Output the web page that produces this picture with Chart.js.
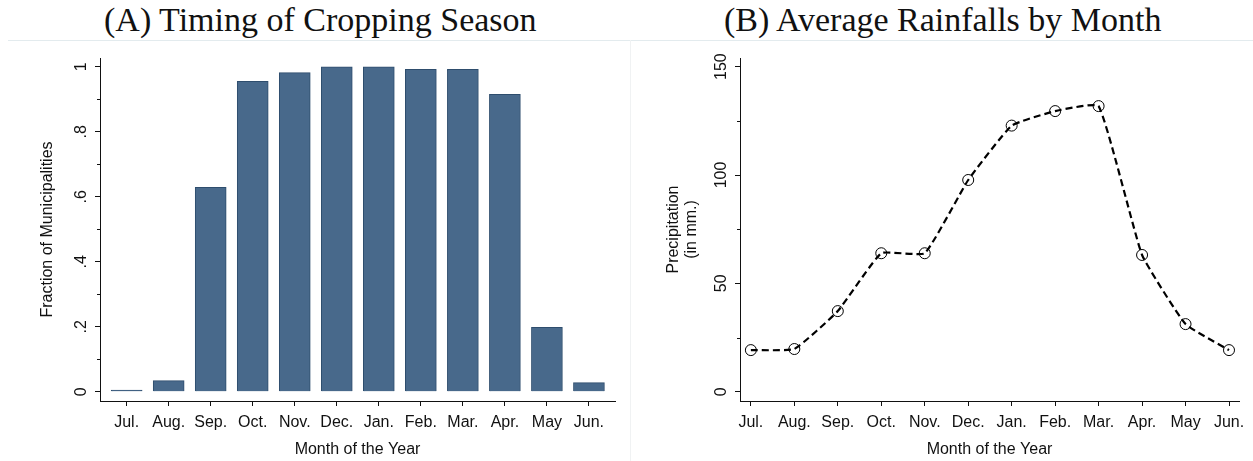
<!DOCTYPE html>
<html>
<head>
<meta charset="utf-8">
<script src="https://cdn.jsdelivr.net/npm/chart.js@4.4.1/dist/chart.umd.min.js"></script>
<style>
  body { margin: 0; background: #fff; width: 1253px; height: 461px; overflow: hidden; position: relative; }
  .title { position: absolute; top: 2px; font-family: "Liberation Serif", serif; font-size: 34px; color: #111; white-space: nowrap; line-height: 36px; }
  .sep { position: absolute; top: 40px; left: 8px; width: 1245px; height: 1px; background: #e3ebee; }
  .vsep { position: absolute; top: 40px; left: 630px; width: 1px; height: 421px; background: #f0f2f3; }
  .box { position: absolute; top: 41px; height: 420px; }
</style>
</head>
<body>
<div class="title" id="titleA" style="left:104px">(A) Timing of Cropping Season</div>
<div class="title" id="titleB" style="left:724px">(B) Average Rainfalls by Month</div>
<div class="sep"></div>
<div class="vsep"></div>
<div class="box" style="left:0; width:630px"><canvas id="cropChart" width="630" height="420"></canvas></div>
<div class="box" style="left:631px; width:622px"><canvas id="rainChart" width="622" height="420"></canvas></div>
<script>
// data
var months = ['Jul.', 'Aug.', 'Sep.', 'Oct.', 'Nov.', 'Dec.', 'Jan.', 'Feb.', 'Mar.', 'Apr.', 'May', 'Jun.'];
var cropFraction = [0.005, 0.034, 0.629, 0.955, 0.982, 1.0, 1.0, 0.992, 0.992, 0.915, 0.198, 0.028];
var rainfall = [19.2, 19.7, 37.2, 63.9, 63.9, 97.7, 122.8, 129.5, 131.8, 63.1, 31.2, 19.2];
var cropTicks = [0, 0.2, 0.4, 0.6, 0.8, 1];
var cropTickLabels = ['0', '.2', '.4', '.6', '.8', '1'];
var cropMinor = [0.1, 0.3, 0.5, 0.7, 0.9];
var rainTicks = [0, 50, 100, 150];
var rainTickLabels = ['0', '50', '100', '150'];
var rainMinor = [25, 75, 125];

var axisFont = { family: '"Liberation Sans", Arial, sans-serif', size: 16, lineHeight: 1.1 };
var ink = '#111';

function toPoints(values) {
  return values.map(function(v, i) { return { x: i, y: v }; });
}

// rotated y tick labels + minor ticks, drawn like Stata does
var stataYAxis = {
  id: 'stataYAxis',
  afterDraw: function(chart, args, opts) {
    var ctx = chart.ctx;
    var y = chart.scales.y;
    ctx.save();
    ctx.strokeStyle = ink;
    ctx.lineWidth = 1;
    opts.minor.forEach(function(v) {
      var py = Math.round(y.getPixelForValue(v)) + 0.5;
      ctx.beginPath();
      ctx.moveTo(y.right - 3, py);
      ctx.lineTo(y.right, py);
      ctx.stroke();
    });
    ctx.fillStyle = ink;
    ctx.font = axisFont.size + 'px ' + axisFont.family;
    ctx.textAlign = 'center';
    ctx.textBaseline = 'middle';
    opts.values.forEach(function(v, i) {
      var py = y.getPixelForValue(v);
      ctx.save();
      ctx.translate(y.right - 18, py);
      ctx.rotate(-Math.PI / 2);
      ctx.fillText(opts.labels[i], 0, 0);
      ctx.restore();
    });
    ctx.restore();
  }
};

function xScale(min, max) {
  return {
    type: 'linear',
    min: min,
    max: max,
    offset: false,
    afterBuildTicks: function(scale) {
      scale.ticks = months.map(function(m, i) { return { value: i }; });
    },
    afterFit: function(scale) { scale.height = 60; },
    ticks: {
      autoSkip: false,
      maxRotation: 0,
      padding: 8,
      color: ink,
      font: axisFont,
      callback: function(value) { return months[value]; }
    },
    grid: { drawOnChartArea: false, drawTicks: true, tickLength: 5, color: ink, offset: false },
    border: { display: true, color: ink, width: 1 },
    title: { display: true, text: 'Month of the Year', color: ink, font: axisFont, padding: { top: 0, bottom: 3 } }
  };
}

function yScale(min, max, ticks, width, title, titlePad) {
  return {
    min: min,
    max: max,
    afterBuildTicks: function(scale) {
      scale.ticks = ticks.map(function(v) { return { value: v }; });
    },
    afterFit: function(scale) { scale.width = width; },
    ticks: { display: false },
    grid: { drawOnChartArea: false, drawTicks: true, tickLength: 5, color: ink },
    border: { display: true, color: ink, width: 1 },
    title: { display: true, text: title, color: ink, font: axisFont, padding: { top: titlePad, bottom: 0 } }
  };
}

new Chart(document.getElementById('cropChart'), {
  type: 'bar',
  data: {
    datasets: [{
      data: toPoints(cropFraction),
      backgroundColor: '#48698b',
      borderColor: '#2e4d6d',
      borderWidth: 1,
      barThickness: 31
    }]
  },
  options: {
    responsive: false,
    animation: false,
    layout: { padding: { left: 0, right: 15, top: 17, bottom: 0 } },
    plugins: {
      legend: { display: false },
      tooltip: { enabled: false },
      stataYAxis: { values: cropTicks, labels: cropTickLabels, minor: cropMinor }
    },
    scales: {
      x: xScale(-0.634, 11.62),
      y: yScale(-0.0286, 1.0268, cropTicks, 100, 'Fraction of Municipalities', 39)
    }
  },
  plugins: [stataYAxis]
});

new Chart(document.getElementById('rainChart'), {
  type: 'line',
  data: {
    datasets: [{
      data: toPoints(rainfall),
      borderColor: '#000',
      borderWidth: 2.2,
      borderDash: [7, 4],
      tension: 0.12,
      pointRadius: 5.5,
      pointBorderWidth: 1,
      pointBorderColor: '#000',
      pointBackgroundColor: 'rgba(0,0,0,0)',
      fill: false
    }]
  },
  options: {
    responsive: false,
    animation: false,
    layout: { padding: { left: 0, right: 14, top: 17, bottom: 0 } },
    plugins: {
      legend: { display: false },
      tooltip: { enabled: false },
      stataYAxis: { values: rainTicks, labels: rainTickLabels, minor: rainMinor }
    },
    scales: {
      x: xScale(-0.25, 11.23),
      y: yScale(-4.29, 154.0, rainTicks, 109, ['Precipitation', '(in mm.)'], 34)
    }
  },
  plugins: [stataYAxis]
});
</script>
</body>
</html>
